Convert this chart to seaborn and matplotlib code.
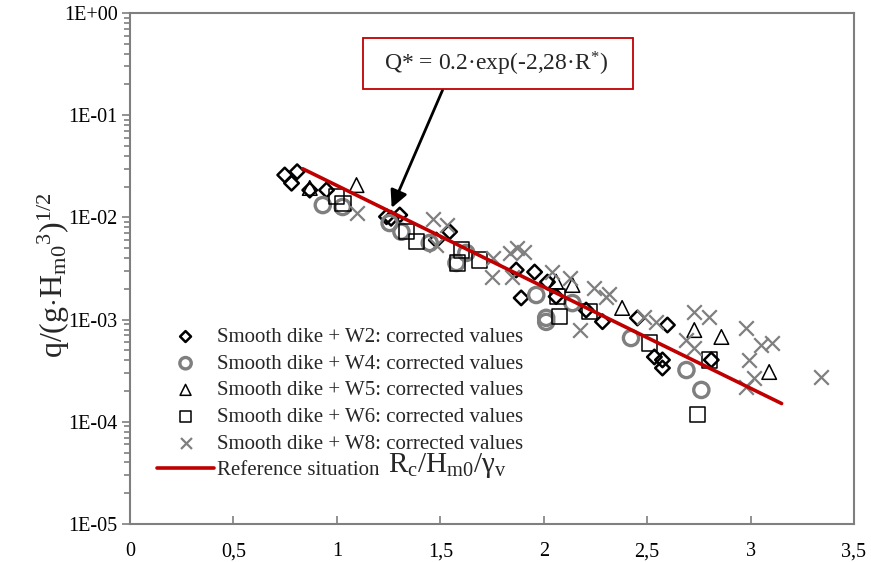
import matplotlib
matplotlib.use("Agg")
import matplotlib.pyplot as plt
import seaborn as sns
from matplotlib.ticker import FixedLocator, LogLocator, NullFormatter, FuncFormatter, MultipleLocator
from matplotlib.patches import Rectangle

sns.set_theme(style="white")
plt.rcParams['font.family'] = ['Liberation Serif', 'DejaVu Serif']
plt.rcParams['mathtext.fontset'] = 'custom'
plt.rcParams['mathtext.rm'] = 'Liberation Serif'
plt.rcParams['mathtext.it'] = 'Liberation Serif:italic'
plt.rcParams['mathtext.bf'] = 'Liberation Serif:bold'

# ---------------- data ----------------
w2_x = [0.748, 0.808, 0.781, 0.869, 0.950, 1.240, 1.304, 1.262, 1.481, 1.545, 1.867, 1.956,
        1.891, 2.018, 2.060, 2.205, 2.284, 2.453, 2.598, 2.535, 2.574, 2.574, 2.810]
w2_y = [0.0260, 0.0280, 0.0216, 0.0185, 0.0185, 0.01016, 0.01055, 0.0098, 0.0060, 0.00724,
        0.00306, 0.00292, 0.00163, 0.00233, 0.00168, 0.00124, 0.000954, 0.001037, 0.000885,
        0.000431, 0.000403, 0.000336, 0.000403]

w4_x = [0.932, 1.028, 1.255, 1.312, 1.449, 1.578, 1.626, 1.964, 2.012, 2.012, 2.139, 2.422,
        2.690, 2.762]
w4_y = [0.0132, 0.01264, 0.00881, 0.00724, 0.00562, 0.00358, 0.00449, 0.00174, 0.00104,
        0.00095, 0.00145, 0.00066, 0.000321, 0.000205]

w5_x = [0.869, 1.095, 2.060, 2.139, 2.379, 2.728, 2.859, 3.090]
w5_y = [0.0194, 0.0207, 0.00235, 0.00218, 0.0013, 0.00079, 0.000676, 0.000307]

w6_x = [0.998, 1.030, 1.336, 1.384, 1.584, 1.602, 1.690, 2.067, 2.076, 2.221, 2.511, 2.801, 2.743]
w6_y = [0.01595, 0.01374, 0.00724, 0.00578, 0.00358, 0.0048, 0.00383, 0.00168, 0.00107,
        0.00119, 0.00059, 0.000403, 0.000117]

w8_x = [1.095, 1.463, 1.532, 1.481, 1.753, 1.748, 1.869, 1.907, 1.835, 1.849, 2.042, 2.125,
        2.245, 2.318, 2.300, 2.173, 2.487, 2.545, 2.728, 2.801, 2.690, 2.728, 2.979, 3.052,
        3.105, 2.994, 3.018, 2.979, 3.341]
w8_y = [0.0110, 0.00964, 0.00843, 0.00537, 0.00401, 0.00261, 0.00502, 0.00459, 0.00449,
        0.00261, 0.00292, 0.00255, 0.00204, 0.00178, 0.00166, 0.00079, 0.00106, 0.00095,
        0.00119, 0.00106, 0.00063, 0.000527, 0.000828, 0.000564, 0.00059, 0.000403,
        0.000268, 0.000219, 0.000274]

ref_x = [0.835, 3.15]
ref_y = [0.0299, 0.000151]

labels = ["Smooth dike + W2: corrected values",
          "Smooth dike + W4: corrected values",
          "Smooth dike + W5: corrected values",
          "Smooth dike + W6: corrected values",
          "Smooth dike + W8: corrected values",
          "Reference situation"]

x_ticks = [0, 0.5, 1, 1.5, 2, 2.5, 3, 3.5]
y_ticks = [1e-5, 1e-4, 1e-3, 1e-2, 1e-1, 1e0]

# ---------------- figure ----------------
W, H = 871, 562
fig = plt.figure(figsize=(W / 100, H / 100), dpi=100)
L, R, T, B = 130, 854, 13, 524
ax = fig.add_axes([L / W, 1 - B / H, (R - L) / W, (B - T) / H])
ax.set_facecolor("white")

BLACK = "#000000"
GRAY = "#7f7f7f"
RED = "#c00000"

sns.scatterplot(x=w2_x, y=w2_y, marker="D", s=55, facecolor="none", edgecolor=BLACK,
                linewidth=1.8, ax=ax, label=labels[0], zorder=3)
sns.scatterplot(x=w4_x, y=w4_y, marker="o", s=120, facecolor="none", edgecolor=GRAY,
                linewidth=2.4, ax=ax, label=labels[1], zorder=3)
sns.scatterplot(x=w5_x, y=w5_y, marker="^", s=110, facecolor="none", edgecolor=BLACK,
                linewidth=1.1, ax=ax, label=labels[2], zorder=3)
sns.scatterplot(x=w6_x, y=w6_y, marker="s", s=120, facecolor="none", edgecolor=BLACK,
                linewidth=1.1, ax=ax, label=labels[3], zorder=3)
sns.scatterplot(x=w8_x, y=w8_y, marker="x", s=110, color=GRAY,
                linewidth=1.6, ax=ax, label=labels[4], zorder=3)
sns.lineplot(x=ref_x, y=ref_y, color=RED, linewidth=2.6, ax=ax, label=labels[5], zorder=4)

ax.set_yscale("log")
ax.set_xlim(0, 3.5)
ax.set_ylim(1e-5, 1e0)

ax.xaxis.set_major_locator(FixedLocator(x_ticks))
ax.xaxis.set_minor_locator(MultipleLocator(0.1))
ax.xaxis.set_major_formatter(FuncFormatter(lambda v, p: f"{v:g}".replace(".", ",")))
ax.yaxis.set_major_locator(FixedLocator(y_ticks))
ax.yaxis.set_minor_locator(LogLocator(base=10, subs=range(2, 10), numticks=20))
ax.yaxis.set_minor_formatter(NullFormatter())
ax.yaxis.set_major_formatter(FuncFormatter(lambda v, p: f"{v:.0E}"))

ax.tick_params(axis="x", which="both", direction="in", color=GRAY, width=1.2,
               labelsize=14.5, labelcolor="black", pad=13)
ax.tick_params(axis="x", which="major", length=6)
ax.tick_params(axis="x", which="minor", length=6)
ax.tick_params(axis="y", which="both", direction="out", color=GRAY, width=1.2,
               labelsize=14.5, labelcolor="black", left=True, pad=3)
ax.tick_params(axis="y", which="major", length=6)
ax.tick_params(axis="y", which="minor", length=4)
ax.tick_params(axis="x", bottom=True)

for s in ax.spines.values():
    s.set_color(GRAY)
    s.set_linewidth(1.5)
    s.set_visible(True)
ax.grid(False)
ax.set_xlabel("")
ax.set_ylabel("")

fig.text(54 / W, 1 - 275 / H,
         r"q/(g$\cdot$H$_{\mathrm{m0}}$$^{\mathrm{3}}$)$^{\mathrm{1/2}}$",
         rotation=90, ha="center", va="center", fontsize=23)
fig.text(388 / W, 1 - 466 / H,
         r"R$_{\mathrm{c}}$/H$_{\mathrm{m0}}$/γ$_{\mathrm{v}}$",
         ha="left", va="center", fontsize=21)

# annotation box
fig.patches.append(Rectangle((363 / W, 1 - 89 / H), 270 / W, 51 / H, transform=fig.transFigure,
                             facecolor="white", edgecolor=RED, linewidth=1.3, zorder=5))
fig.text(496 / W, 1 - 64 / H, r"Q* = 0.2·exp(-2,28·R$^{*}$)", ha="center", va="center",
         fontsize=17, zorder=6)
ax.annotate("", xy=(1.265, 0.0124), xytext=(1.511, 0.176),
            arrowprops=dict(arrowstyle="-|>", color="black", lw=2, mutation_scale=26,
                            shrinkA=0, shrinkB=0), zorder=6)

leg = ax.legend(loc="upper left", bbox_to_anchor=(147 / W, 1 - 317 / H),
                bbox_transform=fig.transFigure, frameon=False, fontsize=15,
                handlelength=2.7, handletextpad=0.15, labelspacing=0.34, borderpad=0,
                markerscale=0.75)

fig.savefig("out.png", dpi=100)
